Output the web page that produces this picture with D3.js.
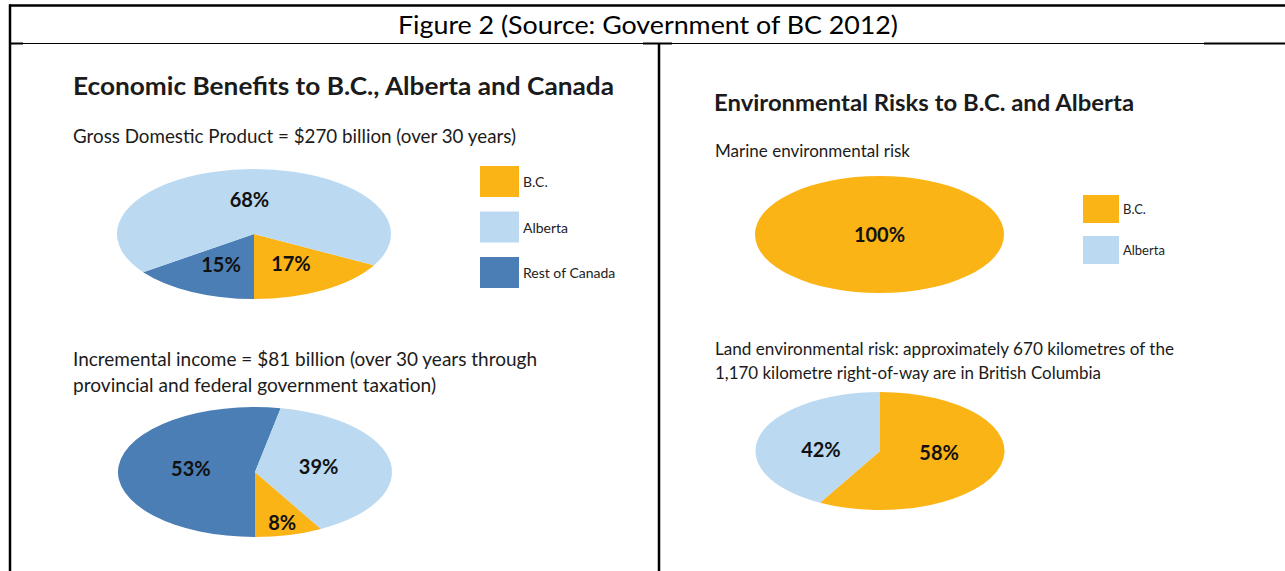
<!DOCTYPE html>
<html><head><meta charset="utf-8">
<script src="https://cdn.jsdelivr.net/npm/d3@7"></script>
<style>body{margin:0;background:#fff} svg{display:block}</style>
</head><body>
<svg id="c" width="1285" height="571"></svg>
<script>
// ---------- data ----------
const figureTitle = "Figure 2 (Source: Government of BC 2012)";
const leftTitle = "Economic Benefits to B.C., Alberta and Canada";
const rightTitle = "Environmental Risks to B.C. and Alberta";
const gdpCaption = ["Gross Domestic Product = $270 billion (over 30 years)"];
const incomeCaption = ["Incremental income = $81 billion (over 30 years through", "provincial and federal government taxation)"];
const marineCaption = ["Marine environmental risk"];
const landCaption = ["Land environmental risk: approximately 670 kilometres of the", "1,170 kilometre right-of-way are in British Columbia"];

const categories = ["B.C.", "Alberta", "Rest of Canada"];
const gdpShares = [17, 68, 15];
const incomeShares = [8, 39, 53];
const riskCategories = ["B.C.", "Alberta"];
const marineShares = [100, 0];
const landShares = [58, 42];

// ---------- setup ----------
const svg = d3.select("#c");
const FONT = "Lato, 'Open Sans', sans-serif";
const INK = "#1b1b1b";
const color = d3.scaleOrdinal().domain(categories).range(["#FBB416", "#BBDAF2", "#4A7EB5"]);

function text(x, y, str, o = {}) {
  const t = svg.append("text").attr("x", x).attr("y", y).text(str)
    .attr("font-family", o.family || FONT).attr("font-size", o.size || 16)
    .attr("font-weight", o.weight || "normal").attr("fill", o.fill || INK)
    .attr("text-anchor", o.anchor || "start");
  if (o.len) t.attr("textLength", o.len).attr("lengthAdjust", "spacingAndGlyphs");
  if (o.middle) t.attr("dominant-baseline", "central");
  return t;
}

// ---------- frame ----------
const frame = svg.append("g").attr("stroke", "#000").attr("fill", "none");
frame.append("line").attr("x1", 9).attr("x2", 1285).attr("y1", 5.5).attr("y2", 5.5).attr("stroke-width", 2.5);
frame.append("line").attr("x1", 10).attr("x2", 10).attr("y1", 4.5).attr("y2", 571).attr("stroke-width", 2.5);
frame.append("line").attr("x1", 9).attr("x2", 1285).attr("y1", 43.5).attr("y2", 43.5).attr("stroke-width", 1);
[[9, 23], [643, 672], [1204, 1285]].forEach(([a, b]) =>
  frame.append("line").attr("x1", a).attr("x2", b).attr("y1", 43.5).attr("y2", 43.5).attr("stroke-width", 2));
frame.append("line").attr("x1", 659).attr("x2", 659).attr("y1", 43).attr("y2", 571).attr("stroke-width", 2.5);

text(648, 34, figureTitle, {size: 25.5, anchor: "middle", len: 500, fill: "#000"});

// ---------- titles & captions ----------
text(73, 95, leftTitle, {size: 25, weight: "bold", len: 541});
text(714, 111, rightTitle, {size: 22.5, weight: "bold", len: 420});

text(73, 143, gdpCaption[0], {size: 19, len: 443});
text(73, 366, incomeCaption[0], {size: 19, len: 464});
text(73, 392, incomeCaption[1], {size: 19, len: 363});
text(715, 157, marineCaption[0], {size: 17.5, len: 195});
text(715, 355, landCaption[0], {size: 17.5, len: 459});
text(715, 379, landCaption[1], {size: 17.5, len: 386});

// ---------- pies ----------
function drawPie({cats, values, order, cx, cy, rx, ry, start, labelR, smallR, labelK}) {
  const total = d3.sum(values);
  const data = order.map(c => ({cat: c, value: values[cats.indexOf(c)]})).filter(d => d.value > 0);
  const pie = d3.pie().sort(null).value(d => d.value).startAngle(start).endAngle(start + 2 * Math.PI);
  const arcs = pie(data);
  const k = ry / rx;
  const arc = d3.arc().innerRadius(0).outerRadius(rx);
  const g = svg.append("g").attr("transform", `translate(${cx},${cy}) scale(1,${k})`);
  g.selectAll("path").data(arcs).join("path").attr("d", arc).attr("fill", d => color(d.data.cat));
  const lg = svg.append("g").attr("transform", `translate(${cx},${cy})`);
  arcs.forEach(a => {
    let x = 0, y = 0;
    if (arcs.length > 1) {
      const f = (a.data.value / total) < 0.1 ? smallR : labelR;
      [x, y] = d3.arc().innerRadius(f * rx).outerRadius(f * rx).centroid(a);
      y *= (labelK !== undefined ? labelK : k);
    }
    lg.append("text").attr("x", x).attr("y", y).attr("dy", "0.36em")
      .attr("text-anchor", "middle").attr("font-family", FONT).attr("font-weight", "bold")
      .attr("font-size", 20).attr("fill", "#111")
      .text(Math.round(a.data.value / total * 100) + "%");
  });
}

const leftOrder = ["B.C.", "Rest of Canada", "Alberta"];
drawPie({cats: categories, values: gdpShares, order: leftOrder, cx: 254, cy: 234, rx: 137, ry: 65,
  start: Math.PI - gdpShares[0] / d3.sum(gdpShares) * 2 * Math.PI, labelR: 0.53, smallR: 0.8});
drawPie({cats: categories, values: incomeShares, order: leftOrder, cx: 255, cy: 472, rx: 137, ry: 65,
  start: Math.PI - incomeShares[0] / d3.sum(incomeShares) * 2 * Math.PI, labelR: 0.47, smallR: 0.8});
drawPie({cats: riskCategories, values: marineShares, order: riskCategories, cx: 879.5, cy: 234.5, rx: 124.5, ry: 58.5,
  start: 0, labelR: 0.5, smallR: 0.8});
drawPie({cats: riskCategories, values: landShares, order: riskCategories, cx: 880, cy: 451, rx: 124.5, ry: 59,
  start: 0, labelR: 0.49, smallR: 0.8, labelK: 0.1});

// ---------- legends ----------
function legend(cats, x, y0, w, h, step, size) {
  cats.forEach((c, i) => {
    const y = y0 + i * step;
    svg.append("rect").attr("x", x).attr("y", y).attr("width", w).attr("height", h).attr("fill", color(c));
    text(x + w + 4, y + h / 2, c, {size, middle: true, fill: "#222"});
  });
}
legend(categories, 480, 166, 39, 31, 45.5, 14);
legend(riskCategories, 1083, 195, 36, 28, 41, 13);
</script>
</body></html>
